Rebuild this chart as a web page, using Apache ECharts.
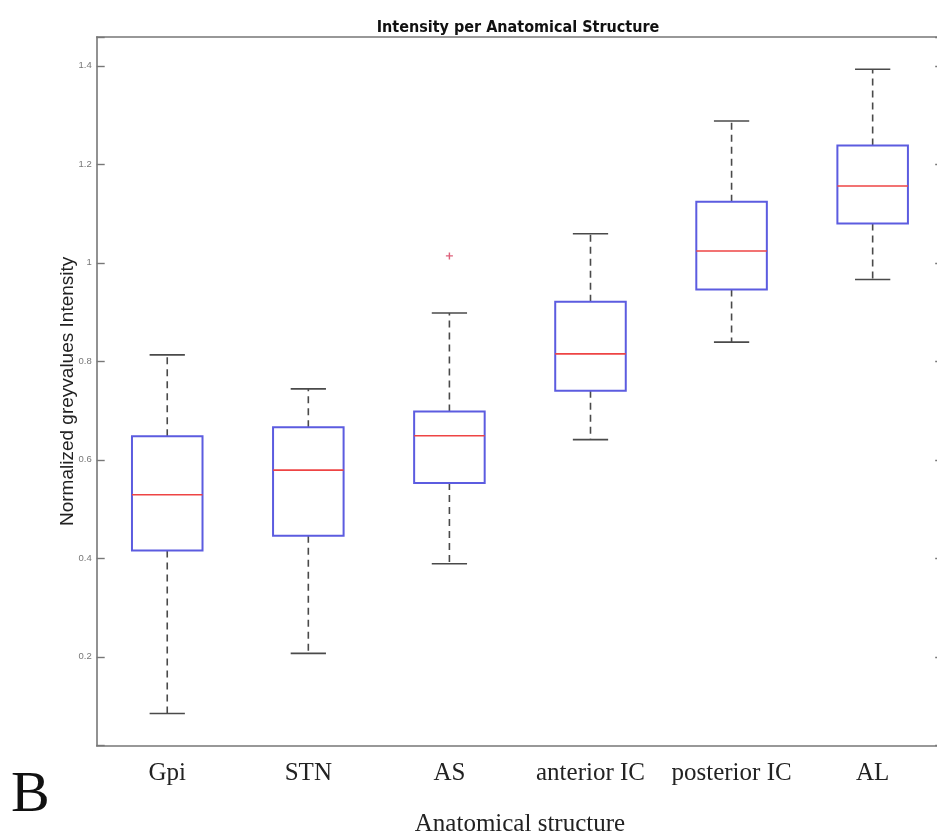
<!DOCTYPE html>
<html>
<head>
<meta charset="utf-8">
<script src="https://cdn.jsdelivr.net/npm/echarts@6/dist/echarts.min.js"></script>
<style>
html,body{margin:0;padding:0;background:#fff;}
#chart{width:937px;height:835px;}
</style>
</head>
<body>
<div id="chart"></div>
<script>
// ---- data ----
var categories = ['Gpi', 'STN', 'AS', 'anterior IC', 'posterior IC', 'AL'];
var lowerWhisker = [0.085, 0.207, 0.389, 0.641, 0.839, 0.966];
var q1Values      = [0.416, 0.446, 0.553, 0.740, 0.946, 1.080];
var medianValues  = [0.529, 0.579, 0.649, 0.815, 1.024, 1.156];
var q3Values      = [0.648, 0.666, 0.698, 0.921, 1.124, 1.238];
var upperWhisker  = [0.813, 0.744, 0.898, 1.059, 1.288, 1.393];
var outlierCategory = [2];
var outlierValues   = [1.014];
var yTickValues = [0.2, 0.4, 0.6, 0.8, 1, 1.2, 1.4];

// axis limits like MATLAB: data range padded 5%
var dataMin = Math.min.apply(null, lowerWhisker.concat(outlierValues));
var dataMax = Math.max.apply(null, upperWhisker.concat(outlierValues));
var pad = (dataMax - dataMin) * 0.05;
var yMin = dataMin - pad, yMax = dataMax + pad;

var boxData = categories.map(function (c, i) {
  return [i, lowerWhisker[i], q1Values[i], medianValues[i], q3Values[i], upperWhisker[i]];
});
var outlierData = outlierCategory.map(function (c, i) { return [c, outlierValues[i]]; });

var chart = echarts.init(document.getElementById('chart'));

function renderBox(params, api) {
  var idx = api.value(0);
  var lw = api.coord([idx, api.value(1)]);
  var q1 = api.coord([idx, api.value(2)]);
  var md = api.coord([idx, api.value(3)]);
  var q3 = api.coord([idx, api.value(4)]);
  var uw = api.coord([idx, api.value(5)]);
  var band = api.size([1, 0])[0];
  var cx = md[0];
  var hb = band * 0.25;
  var hc = band * 0.125;
  var whiskerStyle = { stroke: '#4a4a4a', lineWidth: 1.6, lineDash: [7, 5] };
  var capStyle = { stroke: '#4a4a4a', lineWidth: 1.6 };
  return {
    type: 'group',
    children: [
      { type: 'line', shape: { x1: cx, y1: q3[1], x2: cx, y2: uw[1] }, style: whiskerStyle },
      { type: 'line', shape: { x1: cx, y1: q1[1], x2: cx, y2: lw[1] }, style: whiskerStyle },
      { type: 'line', shape: { x1: cx - hc, y1: uw[1], x2: cx + hc, y2: uw[1] }, style: capStyle },
      { type: 'line', shape: { x1: cx - hc, y1: lw[1], x2: cx + hc, y2: lw[1] }, style: capStyle },
      { type: 'rect', shape: { x: cx - hb, y: q3[1], width: hb * 2, height: q1[1] - q3[1] },
        style: { fill: 'none', stroke: '#5c5ce0', lineWidth: 2 } },
      { type: 'line', shape: { x1: cx - hb, y1: md[1], x2: cx + hb, y2: md[1] },
        style: { stroke: '#ee4444', lineWidth: 1.6 } }
    ]
  };
}

var axisLineStyle = { color: '#777', width: 1.6 };
var tickStyle = { color: '#777', width: 1.4 };

function yLabelFmt(v) {
  for (var i = 0; i < yTickValues.length; i++) {
    if (Math.abs(v - yTickValues[i]) < 1e-6) return String(yTickValues[i]);
  }
  return '';
}

chart.setOption({
  animation: false,
  backgroundColor: '#fff',
  title: {
    text: 'Intensity per Anatomical Structure',
    left: 513, top: 15, textAlign: 'center',
    textStyle: { fontFamily: 'DejaVu Sans Condensed, Liberation Sans', fontWeight: 'bold', fontSize: 16, color: '#111' }
  },
  grid: { left: 96.7, top: 37, width: 846.5, height: 708.7, outerBoundsMode: 'none', containLabel: false },
  xAxis: [{
    type: 'category', data: categories, boundaryGap: true,
    axisLine: { lineStyle: axisLineStyle },
    axisTick: { inside: true, alignWithLabel: true, interval: 0, length: 8, lineStyle: tickStyle },
    axisLabel: { interval: 0, fontFamily: 'Liberation Serif', fontSize: 25, color: '#222', margin: 15 },
    name: 'Anatomical structure', nameLocation: 'middle', nameGap: 66,
    nameTextStyle: { fontFamily: 'Liberation Serif', fontSize: 25, color: '#222' }
  }, {
    type: 'category', data: categories, boundaryGap: true, position: 'top',
    axisLine: { lineStyle: axisLineStyle },
    axisTick: { inside: true, alignWithLabel: true, interval: 0, length: 8, lineStyle: tickStyle },
    axisLabel: { show: false, interval: 0 }
  }],
  yAxis: [{
    type: 'value', min: yMin, max: yMax, splitNumber: 7,
    splitLine: { show: false },
    axisLine: { show: true, lineStyle: axisLineStyle },
    axisTick: { show: true, inside: true, length: 8, lineStyle: tickStyle },
    axisLabel: { formatter: yLabelFmt, fontFamily: 'Liberation Sans', fontSize: 9.5, color: '#777', margin: 5 },
    name: 'Normalized greyvalues Intensity', nameLocation: 'middle', nameGap: 19, nameMoveOverlap: false,
    nameTextStyle: { fontFamily: 'Liberation Sans', fontSize: 19, color: '#222' }
  }, {
    type: 'value', min: yMin, max: yMax, splitNumber: 7, position: 'right',
    splitLine: { show: false },
    axisLine: { show: true, lineStyle: axisLineStyle },
    axisTick: { show: true, inside: true, length: 8, lineStyle: tickStyle },
    axisLabel: { show: false }
  }],
  graphic: [{
    type: 'text', left: 11, top: 767,
    style: { text: 'B', fontFamily: 'Liberation Serif', fontSize: 58, fill: '#111' }
  }],
  series: [{
    type: 'custom',
    xAxisIndex: 0, yAxisIndex: 0,
    renderItem: renderBox,
    encode: { x: 0, y: [1, 2, 3, 4, 5] },
    data: boxData,
    z: 2
  }, {
    type: 'scatter',
    xAxisIndex: 0, yAxisIndex: 0,
    symbol: 'path://M4,0H6V4H10V6H6V10H4V6H0V4H4Z',
    symbolSize: 7,
    itemStyle: { color: '#d63a5a' },
    data: outlierData,
    z: 3
  }]
});
</script>
</body>
</html>
